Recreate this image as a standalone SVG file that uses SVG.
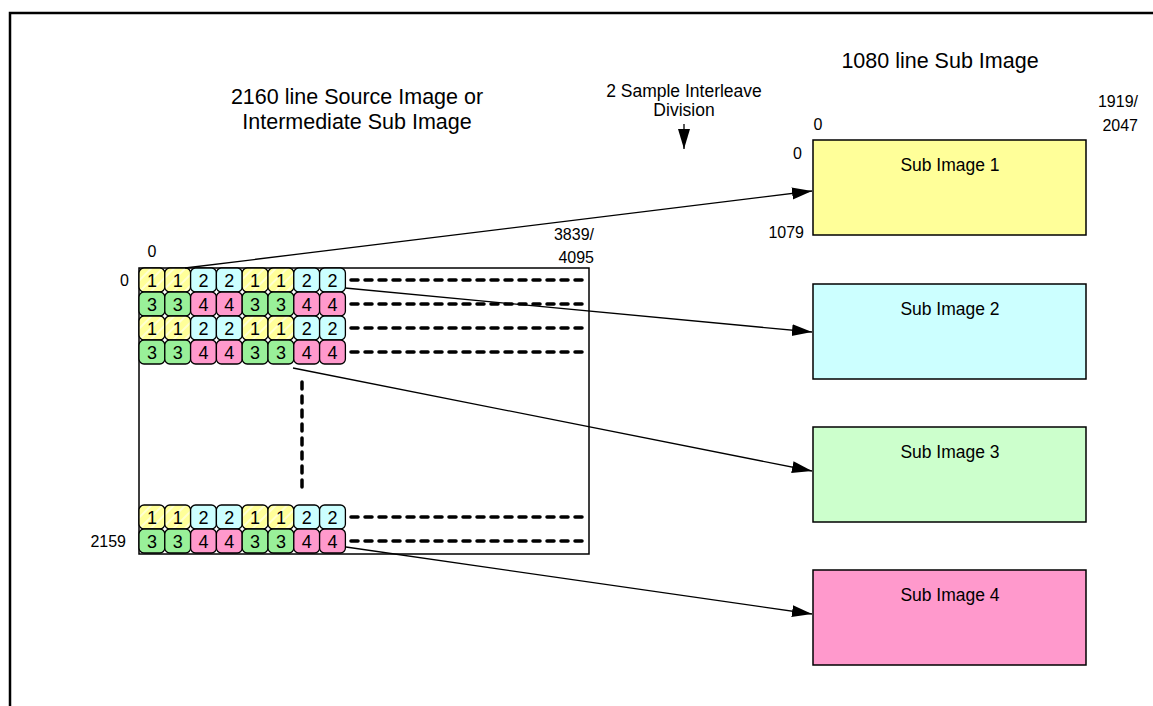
<svg xmlns="http://www.w3.org/2000/svg" width="1153" height="706" viewBox="0 0 1153 706">
<style>
text{font-family:"Liberation Sans",Arial,sans-serif;fill:#000}
.t22{font-size:21.5px}
.t17{font-size:17.5px}
.lbl{font-size:16px}
.t16{font-size:17.5px}
.cell{stroke:#000;stroke-width:1.3}
.c1{fill:url(#hatch)}
.c2{fill:#CCFFFF}
.c3{fill:#99F099}
.c4{fill:#FF99CC}
.d{font-size:18px;text-anchor:middle}
.dots{stroke:#000;stroke-width:3.5;stroke-linecap:round;stroke-dasharray:7 7;fill:none}
.con{stroke:#000;stroke-width:1.3;fill:none;marker-end:url(#ah)}
.sub{stroke:#000;stroke-width:1.5}
</style>
<defs>
<pattern id="hatch" patternUnits="userSpaceOnUse" width="8" height="8" patternTransform="rotate(-45)">
<rect width="8" height="8" fill="#FFFF99"/>
<rect width="8" height="2" fill="#FFFFD0"/>
</pattern>
<marker id="ah" markerUnits="userSpaceOnUse" markerWidth="22" markerHeight="14" refX="20" refY="6" orient="auto">
<path d="M0,0 L20,6 L0,12 Z" fill="#000"/>
</marker>
<g id="rowA">
<rect class="cell c1" x="0" y="0" width="25.8" height="24" rx="5"/>
<rect class="cell c1" x="25.8" y="0" width="25.8" height="24" rx="5"/>
<rect class="cell c2" x="51.6" y="0" width="25.8" height="24" rx="5"/>
<rect class="cell c2" x="77.4" y="0" width="25.8" height="24" rx="5"/>
<rect class="cell c1" x="103.2" y="0" width="25.8" height="24" rx="5"/>
<rect class="cell c1" x="129" y="0" width="25.8" height="24" rx="5"/>
<rect class="cell c2" x="154.8" y="0" width="25.8" height="24" rx="5"/>
<rect class="cell c2" x="180.6" y="0" width="25.8" height="24" rx="5"/>
<text class="d" x="12.9" y="18.5">1</text>
<text class="d" x="38.7" y="18.5">1</text>
<text class="d" x="64.5" y="18.5">2</text>
<text class="d" x="90.3" y="18.5">2</text>
<text class="d" x="116.1" y="18.5">1</text>
<text class="d" x="141.9" y="18.5">1</text>
<text class="d" x="167.7" y="18.5">2</text>
<text class="d" x="193.5" y="18.5">2</text>
</g>
<g id="rowB">
<rect class="cell c3" x="0" y="0" width="25.8" height="24" rx="5"/>
<rect class="cell c3" x="25.8" y="0" width="25.8" height="24" rx="5"/>
<rect class="cell c4" x="51.6" y="0" width="25.8" height="24" rx="5"/>
<rect class="cell c4" x="77.4" y="0" width="25.8" height="24" rx="5"/>
<rect class="cell c3" x="103.2" y="0" width="25.8" height="24" rx="5"/>
<rect class="cell c3" x="129" y="0" width="25.8" height="24" rx="5"/>
<rect class="cell c4" x="154.8" y="0" width="25.8" height="24" rx="5"/>
<rect class="cell c4" x="180.6" y="0" width="25.8" height="24" rx="5"/>
<text class="d" x="12.9" y="18.5">3</text>
<text class="d" x="38.7" y="18.5">3</text>
<text class="d" x="64.5" y="18.5">4</text>
<text class="d" x="90.3" y="18.5">4</text>
<text class="d" x="116.1" y="18.5">3</text>
<text class="d" x="141.9" y="18.5">3</text>
<text class="d" x="167.7" y="18.5">4</text>
<text class="d" x="193.5" y="18.5">4</text>
</g>
</defs>
<rect x="0" y="0" width="1153" height="706" fill="#fff"/>
<path d="M10,720 L10,13 L1170,13" fill="none" stroke="#000" stroke-width="2.5"/>

<g id="titles">
<text class="t22" x="357" y="104" text-anchor="middle">2160 line Source Image or</text>
<text class="t22" x="357" y="129" text-anchor="middle">Intermediate Sub Image</text>
<text class="t16" x="684" y="97" text-anchor="middle">2 Sample Interleave</text>
<text class="t16" x="684" y="116" text-anchor="middle">Division</text>
<text class="t22" x="940" y="68" text-anchor="middle">1080 line Sub Image</text>
</g>

<g id="source">
<rect x="139" y="268" width="450" height="286" fill="#fff" stroke="#000" stroke-width="1.5"/>
<use href="#rowA" x="139" y="268"/>
<use href="#rowB" x="139" y="292"/>
<use href="#rowA" x="139" y="316"/>
<use href="#rowB" x="139" y="340"/>
<use href="#rowA" x="139" y="505"/>
<use href="#rowB" x="139" y="529"/>
<path class="dots" d="M351,280 H589 M351,304 H589 M351,328 H589 M351,352 H589 M351,517 H589 M351,541 H589"/>
<path class="dots" d="M302,382 V490" stroke-dasharray="7 6"/>
<text class="lbl" x="152" y="257" text-anchor="middle">0</text>
<text class="lbl" x="129" y="286" text-anchor="end">0</text>
<text class="lbl" x="126" y="547" text-anchor="end">2159</text>
<text class="lbl" x="594" y="240" text-anchor="end">3839/</text>
<text class="lbl" x="594" y="263" text-anchor="end">4095</text>
</g>

<g id="sub1">
<rect class="sub" x="813" y="140" width="273" height="95" fill="#FFFF99"/>
<text class="t17" x="950" y="171" text-anchor="middle">Sub Image 1</text>
<text class="lbl" x="818" y="130" text-anchor="middle">0</text>
<text class="lbl" x="1138" y="107" text-anchor="end">1919/</text>
<text class="lbl" x="1138" y="131" text-anchor="end">2047</text>
<text class="lbl" x="802" y="159" text-anchor="end">0</text>
<text class="lbl" x="804" y="238" text-anchor="end">1079</text>
</g>
<g id="sub2">
<rect class="sub" x="813" y="284" width="273" height="95" fill="#CCFFFF"/>
<text class="t17" x="950" y="315" text-anchor="middle">Sub Image 2</text>
</g>
<g id="sub3">
<rect class="sub" x="813" y="427" width="273" height="95" fill="#CCFFCC"/>
<text class="t17" x="950" y="458" text-anchor="middle">Sub Image 3</text>
</g>
<g id="sub4">
<rect class="sub" x="813" y="570" width="273" height="95" fill="#FF99CC"/>
<text class="t17" x="950" y="601" text-anchor="middle">Sub Image 4</text>
</g>

<g id="connectors">
<line class="con" x1="185" y1="268" x2="812" y2="191"/>
<line class="con" x1="345" y1="288" x2="812" y2="332"/>
<line class="con" x1="293" y1="368" x2="812" y2="471"/>
<line class="con" x1="346" y1="547" x2="812" y2="614"/>
<line class="con" x1="684" y1="124" x2="684" y2="149"/>
</g>
</svg>
